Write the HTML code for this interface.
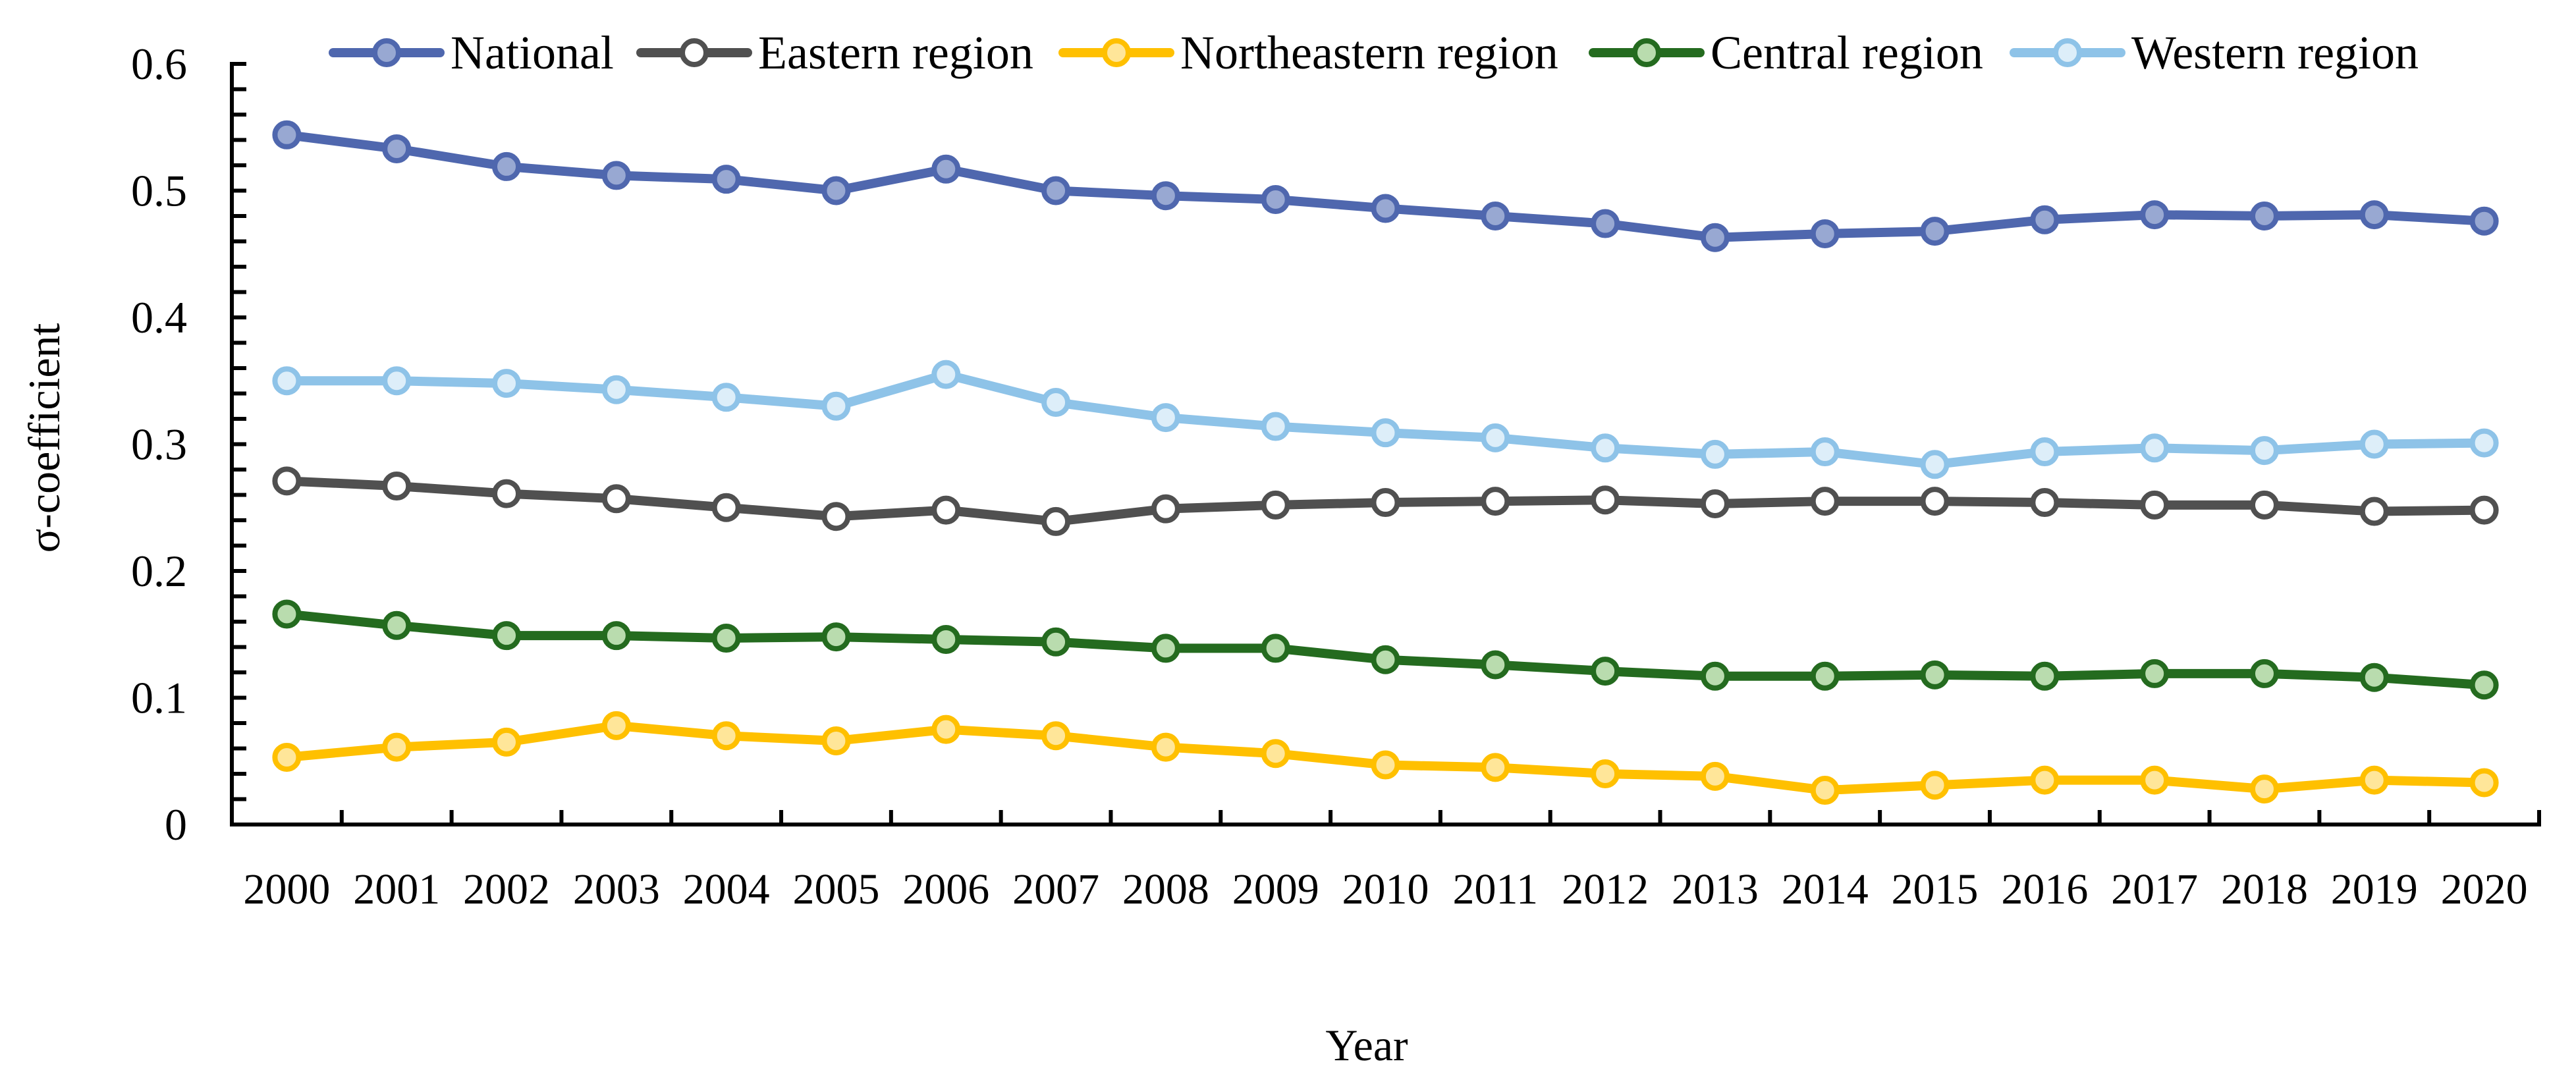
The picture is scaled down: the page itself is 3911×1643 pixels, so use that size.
<!DOCTYPE html>
<html><head><meta charset="utf-8"><style>
html,body{margin:0;padding:0;background:#fff;}
svg{display:block;}
text{font-family:"Liberation Serif",serif;fill:#000;}
</style></head><body>
<svg id="chart" width="3911" height="1643" viewBox="0 0 3911 1643" xmlns="http://www.w3.org/2000/svg">
<g id="grid"></g>
<g id="series"></g>
<g id="axes"></g>
<g id="legend"></g>
<text transform="translate(90,665) rotate(-90)" text-anchor="middle" font-size="68">σ-coefficient</text>
<text x="2075" y="1610" text-anchor="middle" font-size="68">Year</text>
</svg>
<script>
const years = ["2000","2001","2002","2003","2004","2005","2006","2007","2008","2009","2010","2011","2012","2013","2014","2015","2016","2017","2018","2019","2020"];
const yTicks = [0,0.1,0.2,0.3,0.4,0.5,0.6];
const yTickLabels = ["0","0.1","0.2","0.3","0.4","0.5","0.6"];
const national = [0.544,0.533,0.519,0.512,0.509,0.500,0.517,0.500,0.496,0.493,0.486,0.480,0.474,0.463,0.466,0.468,0.477,0.481,0.480,0.481,0.476];
const eastern = [0.271,0.267,0.261,0.257,0.250,0.243,0.248,0.239,0.249,0.252,0.254,0.255,0.256,0.253,0.255,0.255,0.254,0.252,0.252,0.247,0.248];
const northeastern = [0.053,0.061,0.065,0.078,0.070,0.066,0.075,0.070,0.061,0.056,0.047,0.045,0.040,0.038,0.027,0.031,0.035,0.035,0.028,0.035,0.033];
const central = [0.166,0.157,0.149,0.149,0.147,0.148,0.146,0.144,0.139,0.139,0.130,0.126,0.121,0.117,0.117,0.118,0.117,0.119,0.119,0.116,0.110];
const western = [0.350,0.350,0.348,0.343,0.337,0.330,0.355,0.333,0.321,0.314,0.309,0.305,0.297,0.292,0.294,0.284,0.294,0.297,0.295,0.300,0.301];

const NS = "http://www.w3.org/2000/svg";
const X0 = 352, X1 = 3855, Y0 = 1252, YTOP = 97, YMAX = 0.6;
const step = (X1 - X0) / years.length;
function xPos(i){ return X0 + step * (i + 0.5); }
function yPos(v){ return Y0 - (v / YMAX) * (Y0 - YTOP); }
function mk(tag, attrs, parent){
  const e = document.createElementNS(NS, tag);
  for (const k in attrs) e.setAttribute(k, attrs[k]);
  parent.appendChild(e);
  return e;
}
const axes = document.getElementById('axes');
const seriesG = document.getElementById('series');
const legend = document.getElementById('legend');

const ya = mk('line', {x1:X0, y1:YTOP-3, x2:X0, y2:Y0+3, stroke:'#000', 'stroke-width':6}, axes);


const xa = mk('line', {x1:X0-3, y1:Y0, x2:X1+3, y2:Y0, stroke:'#000', 'stroke-width':6}, axes);



for (let k = 0; k <= 30; k++) {
  const y = yPos(k * 0.02);
  const t = mk('line', {x1:X0, y1:y, x2:X0+22, y2:y, stroke:'#000', 'stroke-width':6}, axes);
  
  
}
yTicks.forEach((v, i) => {
  const t = mk('text', {x:284, y:yPos(v)+23, 'text-anchor':'end', 'font-size':68}, axes);
  t.textContent = yTickLabels[i];
  
  
});
for (let k = 1; k <= years.length; k++) {
  const x = X0 + step * k;
  const t = mk('line', {x1:x, y1:Y0, x2:x, y2:Y0-22, stroke:'#000', 'stroke-width':6}, axes);
  
  
}
years.forEach((yr, i) => {
  const t = mk('text', {x:xPos(i), y:1372, 'text-anchor':'middle', 'font-size':66}, axes);
  t.textContent = yr;
  
  
});

const defs = [
  {name:'national', label:'National', data:national, stroke:'#4f67ae', fill:'#98a8d2', lx:506},
  {name:'eastern', label:'Eastern region', data:eastern, stroke:'#505050', fill:'#ffffff', lx:973},
  {name:'northeastern', label:'Northeastern region', data:northeastern, stroke:'#ffc000', fill:'#ffe699', lx:1614},
  {name:'central', label:'Central region', data:central, stroke:'#246b1f', fill:'#b9dcae', lx:2419},
  {name:'western', label:'Western region', data:western, stroke:'#8ec3e8', fill:'#ddeef9', lx:3058}
];
defs.forEach(s => {
  const g = mk('g', {}, seriesG);
  
  
  const pts = s.data.map((v, i) => xPos(i) + ',' + yPos(v)).join(' ');
  const pl = mk('polyline', {points:pts, fill:'none', stroke:s.stroke, 'stroke-width':14, 'stroke-linejoin':'round'}, g);
  
  
  s.data.forEach((v, i) => {
    const c = mk('circle', {cx:xPos(i), cy:yPos(v), r:18, fill:s.fill, stroke:s.stroke, 'stroke-width':8}, g);
    
    
  });
  const lg = mk('g', {}, legend);
  
  
  mk('line', {x1:s.lx, y1:80, x2:s.lx+162, y2:80, stroke:s.stroke, 'stroke-width':14, 'stroke-linecap':'round'}, lg);
  mk('circle', {cx:s.lx+81, cy:80, r:18, fill:s.fill, stroke:s.stroke, 'stroke-width':8}, lg);
  const t = mk('text', {x:s.lx+178, y:104, 'font-size':72}, lg);
  t.textContent = s.label;
});
</script>
</body></html>
